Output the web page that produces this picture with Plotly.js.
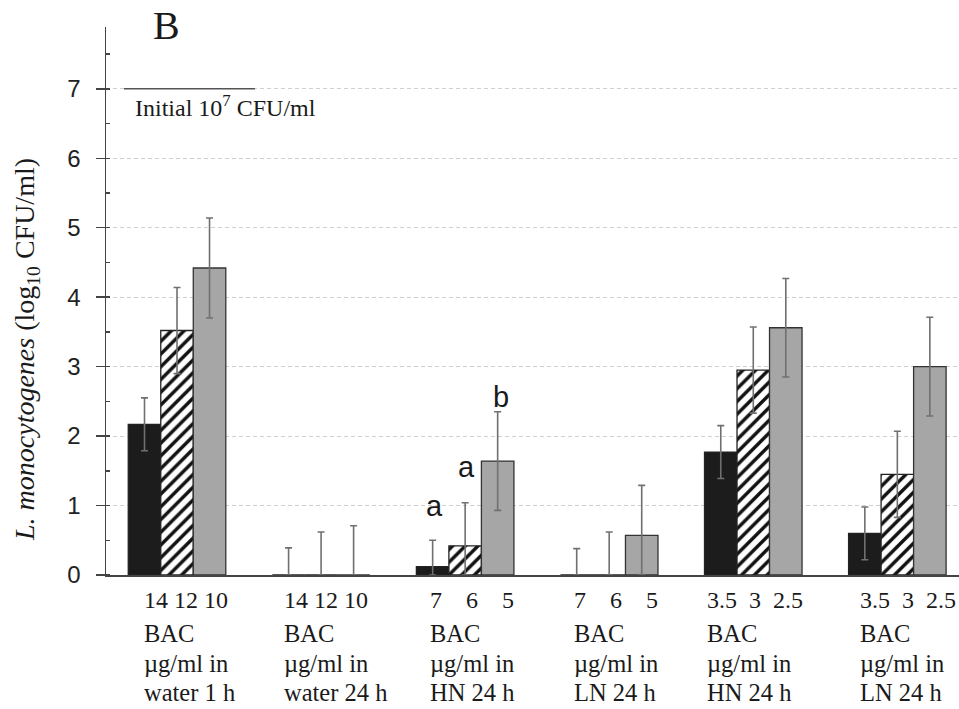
<!DOCTYPE html>
<html>
<head>
<meta charset="utf-8">
<script src="https://cdn.plot.ly/plotly-3.0.1.min.js"></script>
<style>
  html, body { margin: 0; padding: 0; background: #ffffff; }
  #chart { width: 959px; height: 709px; }
</style>
</head>
<body>
<div id="chart"></div>
<script>
// Treatment groups (x positions 0..5)
const groupIdx = [0, 1, 2, 3, 4, 5];
const groupMedia = ["water 1 h", "water 24 h", "HN 24 h", "LN 24 h", "HN 24 h", "LN 24 h"];
const doseLabels = [
  "14 12 10",
  "14 12 10",
  "7\u00a0\u00a0\u00a0 6\u00a0\u00a0\u00a0 5",
  "7\u00a0\u00a0\u00a0 6\u00a0\u00a0\u00a0 5",
  "3.5\u00a0 3\u00a0 2.5",
  "3.5\u00a0 3\u00a0 2.5"
];
const unitLines = ["BAC", "\u00b5g/ml in"];

// Surviving L. monocytogenes, log10 CFU/ml (high, middle, low BAC dose)
const highDose = [2.17, 0, 0.12, 0, 1.77, 0.60];
const highDoseSD = [0.38, 0.39, 0.38, 0.38, 0.38, 0.38];
const midDose = [3.52, 0, 0.42, 0, 2.95, 1.45];
const midDoseSD = [0.62, 0.62, 0.62, 0.62, 0.62, 0.62];
const lowDose = [4.42, 0, 1.64, 0.57, 3.56, 3.00];
const lowDoseSD = [0.72, 0.71, 0.71, 0.72, 0.71, 0.71];

// Significance letters for the HN 24 h group
const sigLetters = ["a", "a", "b"];
const sigGroup = 2;
const sigY = [1.0, 1.56, 2.56];

const initialLevel = 7;

// ---- layout geometry ----
const W = 959, H = 709;
const M = { l: 106, r: 0, t: 27, b: 134 };
const plotW = W - M.l - M.r, plotH = H - M.t - M.b;
const bargap = 0.323;
const barUnit = (1 - bargap) / 3;
const xRange = [-0.493, 5.428];
const yRange = [0, 7.89];
const px2x = px => (px - M.l) / plotW;            // pixel -> paper x
const py2y = py => (H - M.b - py) / plotH;         // pixel -> paper y
const labelOffsets = [-0.243, -0.272, -0.257, -0.257, -0.333, -0.272];
const labelRows = [633, 663, 692];                 // pixel centres of the three text rows

const serif = "'Liberation Serif', 'Times New Roman', serif";
const sans = "'Liberation Sans', Arial, sans-serif";

function lowerErr(vals, sd) {
  // error bars stop at the axis
  return vals.map((v, i) => Math.min(v, sd[i]));
}
function errBar(vals, sd) {
  return {
    type: 'data', symmetric: false, array: sd, arrayminus: lowerErr(vals, sd),
    color: '#707070', thickness: 1.6, width: 3.5
  };
}

const traces = [
  {
    type: 'bar', x: groupIdx, y: highDose, name: 'high',
    marker: { color: '#1c1c1c', line: { color: '#222', width: 1.3 } },
    error_y: errBar(highDose, highDoseSD)
  },
  {
    type: 'bar', x: groupIdx, y: midDose, name: 'mid',
    marker: {
      color: '#ffffff',
      line: { color: '#222', width: 1.3 },
      pattern: { shape: '/', fgcolor: '#111', bgcolor: '#ffffff', size: 9, solidity: 0.38, fillmode: 'replace' }
    },
    error_y: errBar(midDose, midDoseSD)
  },
  {
    type: 'bar', x: groupIdx, y: lowDose, name: 'low',
    marker: { color: '#a6a6a6', line: { color: '#333', width: 1.3 } },
    error_y: errBar(lowDose, lowDoseSD)
  }
];

const annotations = [];

// panel letter
annotations.push({
  xref: 'paper', yref: 'paper', x: px2x(166.5), y: py2y(26),
  xanchor: 'center', yanchor: 'middle', showarrow: false,
  text: 'B', font: { family: serif, size: 40, color: '#1a1a1a' }
});

// y-axis title
annotations.push({
  xref: 'paper', yref: 'paper', x: px2x(26), y: py2y(350),
  xanchor: 'center', yanchor: 'middle', showarrow: false, textangle: -90,
  text: '<i>L. monocytogenes</i> (log<sub>10</sub> CFU/ml)',
  font: { family: serif, size: 28, color: '#1a1a1a' }
});

// initial inoculum label
annotations.push({
  xref: 'paper', yref: 'paper', x: px2x(133), y: py2y(106),
  xanchor: 'left', yanchor: 'middle', showarrow: false,
  text: 'Initial 10<sup>7</sup> CFU/ml',
  font: { family: serif, size: 24, color: '#1a1a1a' }
});

// category labels below the axis
groupIdx.forEach((g, i) => {
  const x = g + labelOffsets[i];
  annotations.push({
    xref: 'x', yref: 'paper', x: x, y: py2y(600),
    xanchor: 'left', yanchor: 'middle', showarrow: false,
    text: doseLabels[i], font: { family: serif, size: 24, color: '#1a1a1a' }
  });
  unitLines.concat([groupMedia[i]]).forEach((line, r) => {
    annotations.push({
      xref: 'x', yref: 'paper', x: x, y: py2y(labelRows[r]),
      xanchor: 'left', yanchor: 'middle', showarrow: false,
      text: line, font: { family: serif, size: 24.5, color: '#1a1a1a' }
    });
  });
});

// significance letters
sigLetters.forEach((s, k) => {
  annotations.push({
    xref: 'x', yref: 'y', x: sigGroup + (k - 1) * barUnit + (k === 2 ? 0.02 : 0.01), y: sigY[k],
    xanchor: 'center', yanchor: 'middle', showarrow: false,
    text: s, font: { family: sans, size: 29, color: '#1a1a1a' }
  });
});

const layout = {
  width: W, height: H,
  margin: M,
  paper_bgcolor: '#ffffff', plot_bgcolor: '#ffffff',
  barmode: 'group', bargap: bargap, bargroupgap: 0,
  showlegend: false,
  xaxis: {
    range: xRange, showticklabels: false, ticks: '', showgrid: false, zeroline: false,
    showline: true, linecolor: '#444', linewidth: 1.5
  },
  yaxis: {
    range: yRange, tickvals: [0, 1, 2, 3, 4, 5, 6, 7],
    ticks: 'outside', ticklen: 9, tickwidth: 1.5, tickcolor: '#444',
    ticklabelstandoff: 10,
    tickfont: { family: sans, size: 24, color: '#222' },
    showline: true, linecolor: '#444', linewidth: 1.5,
    showgrid: true, gridcolor: '#d0d0d0', gridwidth: 1, griddash: '4px,3px',
    zeroline: false,
    minor: { dtick: 0.5, ticks: 'inside', ticklen: 4, tickwidth: 1.5, tickcolor: '#444', showgrid: false }
  },
  shapes: [{
    type: 'line', xref: 'paper', yref: 'y',
    x0: px2x(124), x1: px2x(255), y0: initialLevel, y1: initialLevel,
    line: { color: '#555', width: 1.5 }
  }],
  annotations: annotations
};

Plotly.newPlot('chart', traces, layout, { displayModeBar: false, staticPlot: true });
</script>
</body>
</html>
